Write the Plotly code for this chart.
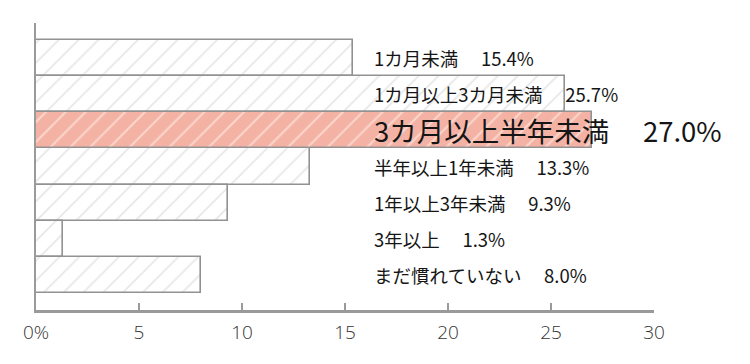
import plotly.graph_objects as go

categories = ["1カ月未満", "1カ月以上3カ月未満", "3カ月以上半年未満", "半年以上1年未満",
              "1年以上3年未満", "3年以上", "まだ慣れていない"]
values = [15.4, 25.7, 27.0, 13.3, 9.3, 1.3, 8.0]
highlight = "3カ月以上半年未満"
tick_vals = [0, 5, 10, 15, 20, 25, 30]
tick_text = ["0%", "5", "10", "15", "20", "25", "30"]

ypos = list(range(len(categories)))
norm = [(v, y) for c, v, y in zip(categories, values, ypos) if c != highlight]
hi = [(v, y) for c, v, y in zip(categories, values, ypos) if c == highlight]

fig = go.Figure()
fig.add_trace(go.Bar(
    x=[v for v, _ in norm], y=[y for _, y in norm], orientation="h", width=1.0,
    marker=dict(
        color="#FFFFFF",
        line=dict(color="#929292", width=1.6),
        pattern=dict(shape="/", fgcolor="#CFCFCF", bgcolor="#FFFFFF", size=14, solidity=0.13,
                     fillmode="overlay"),
    ),
    hoverinfo="skip",
))
fig.add_trace(go.Bar(
    x=[v for v, _ in hi], y=[y for _, y in hi], orientation="h", width=1.0,
    marker=dict(
        color="#F4B2A5",
        line=dict(color="#929292", width=1.6),
        pattern=dict(shape="/", fgcolor="#FFF8F0", bgcolor="#F4B2A5", size=14, solidity=0.15,
                     fillmode="overlay"),
    ),
    hoverinfo="skip",
))

for c, v, y in zip(categories, values, ypos):
    big = c == highlight
    fs = 27.5 if big else 18.5
    fig.add_annotation(
        x=16.3, y=y, xref="x", yref="y", xanchor="left", yanchor="middle",
        text=f"{c}　 {v:.1f}%", showarrow=False,
        font=dict(family="Noto Sans CJK JP", size=fs, color="#151515"),
    )

fig.update_layout(
    width=750, height=364,
    margin=dict(l=28, r=104, t=15, b=62),
    paper_bgcolor="white", plot_bgcolor="white",
    showlegend=False,
    barmode="overlay",
    bargap=0,
    xaxis=dict(
        range=[0, 30], tickvals=tick_vals, ticktext=tick_text,
        showgrid=False, zeroline=False,
        showline=True, linecolor="#9A9A9A", linewidth=2.5,
        ticks="inside", ticklen=7, tickwidth=1.5, tickcolor="#9A9A9A",
        tickfont=dict(family="Open Sans", size=19, color="#333333", weight=300),
        ticklabelstandoff=3,
    ),
    yaxis=dict(
        range=[6.97, -0.97], showticklabels=False, showgrid=False, zeroline=False,
        showline=True, linecolor="#9A9A9A", linewidth=2, ticks="",
    ),
)

fig.write_html("out.html")
